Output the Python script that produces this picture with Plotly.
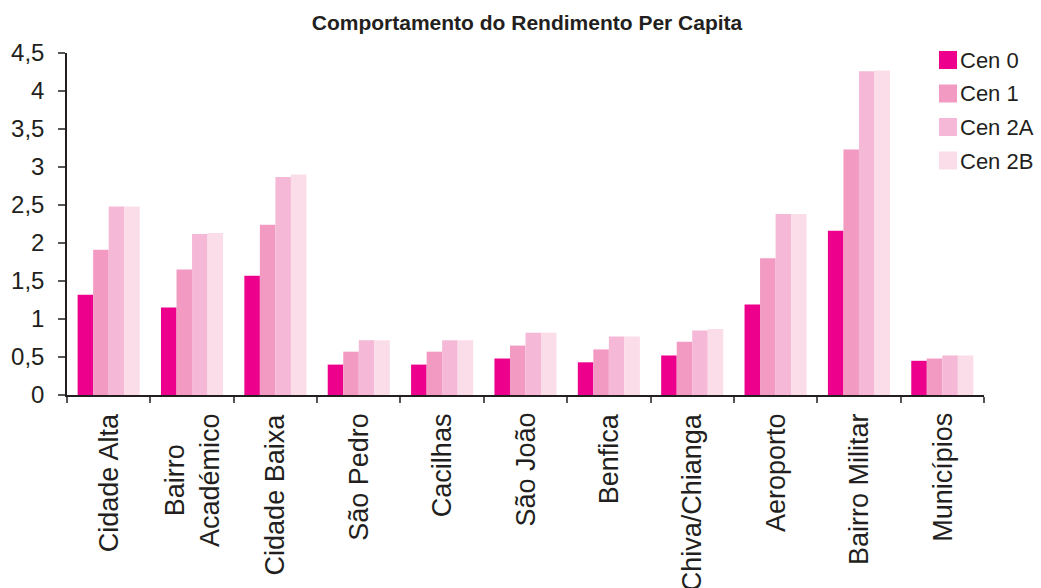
import plotly.graph_objects as go

# Rendimento per capita by bairro, for each scenario
bairros = ["Cidade Alta", "Bairro Académico", "Cidade Baixa", "São Pedro", "Cacilhas",
           "São João", "Benfica", "Chiva/Chianga", "Aeroporto", "Bairro Militar", "Municípios"]
bairro_labels = ["Cidade Alta", "Bairro<br>Académico", "Cidade Baixa", "São Pedro", "Cacilhas",
                 "São João", "Benfica", "Chiva/Chianga", "Aeroporto", "Bairro Militar", "Municípios"]

cen0 = [1.32, 1.15, 1.57, 0.40, 0.40, 0.48, 0.43, 0.52, 1.19, 2.16, 0.45]
cen1 = [1.91, 1.65, 2.24, 0.57, 0.57, 0.65, 0.60, 0.70, 1.80, 3.23, 0.48]
cen2a = [2.48, 2.12, 2.87, 0.72, 0.72, 0.82, 0.77, 0.85, 2.38, 4.26, 0.52]
cen2b = [2.48, 2.13, 2.90, 0.72, 0.72, 0.82, 0.77, 0.87, 2.38, 4.27, 0.52]

series_names = ["Cen 0", "Cen 1", "Cen 2A", "Cen 2B"]
series_values = [cen0, cen1, cen2a, cen2b]
series_colors = ["#EC008C", "#F29AC2", "#F5B8D6", "#FBDDE9"]

y_tickvals = [0, 0.5, 1, 1.5, 2, 2.5, 3, 3.5, 4, 4.5]
y_ticktext = ["0", "0,5", "1", "1,5", "2", "2,5", "3", "3,5", "4", "4,5"]

FONT = "Liberation Sans, Arial, sans-serif"
TEXT = "#231F20"
W, H = 1041, 588
L, R, T, B = 67, 57, 53, 193
plot_w, plot_h = W - L - R, H - T - B


def px_x(px):
    return (px - L) / plot_w


def px_y(py):
    return (H - B - py) / plot_h


fig = go.Figure()
for name, vals, col in zip(series_names, series_values, series_colors):
    fig.add_trace(go.Bar(x=bairros, y=vals, name=name, marker=dict(color=col, line=dict(width=0)),
                         showlegend=False))

# category labels under the axis, rotated
annotations = []
for cat, lab in zip(bairros, bairro_labels):
    annotations.append(dict(x=cat, xref="x", y=0, yref="paper", yanchor="top", xanchor="center",
                            yshift=-16, text=lab, textangle=-90, align="center", showarrow=False,
                            font=dict(family=FONT, size=27, color=TEXT)))

# legend drawn as swatches + labels
shapes = []
legend_top = 51
legend_step = 33.5
for i, (name, col) in enumerate(zip(series_names, series_colors)):
    y0 = legend_top + i * legend_step
    shapes.append(dict(type="rect", xref="paper", yref="paper",
                       x0=px_x(939), x1=px_x(957), y0=px_y(y0 + 18), y1=px_y(y0),
                       fillcolor=col, line=dict(width=0)))
    annotations.append(dict(x=px_x(958), y=px_y(y0 + 9.5), xref="paper", yref="paper",
                            xanchor="left", yanchor="middle", text=name, showarrow=False,
                            font=dict(family=FONT, size=22, color=TEXT)))

fig.update_layout(
    width=W, height=H,
    margin=dict(l=L, r=R, t=T, b=B, autoexpand=False),
    paper_bgcolor="white", plot_bgcolor="white",
    barmode="group", bargap=0.255, bargroupgap=0,
    title=dict(text="<b>Comportamento do Rendimento Per Capita</b>", x=527 / W, xanchor="center",
               xref="container", y=1 - 23 / H, yanchor="middle",
               font=dict(family=FONT, size=21, color=TEXT)),
    xaxis=dict(range=[-0.5, len(bairros) - 0.5], showticklabels=False, showline=True,
               linecolor=TEXT, linewidth=1.5, ticks="outside", tickson="boundaries",
               ticklen=6, tickcolor="#555555", tickwidth=1.5, showgrid=False, zeroline=False),
    yaxis=dict(range=[0, 4.5], tickvals=y_tickvals, ticktext=y_ticktext, showline=True,
               linecolor=TEXT, linewidth=1.5, ticks="outside", ticklen=7,
               tickcolor="#555555", tickwidth=1.5, showgrid=False, zeroline=False,
               ticklabelstandoff=9, automargin=False,
               tickfont=dict(family=FONT, size=24, color=TEXT)),
    shapes=shapes,
    annotations=annotations,
    showlegend=False,
)

fig.write_html("out.html")
